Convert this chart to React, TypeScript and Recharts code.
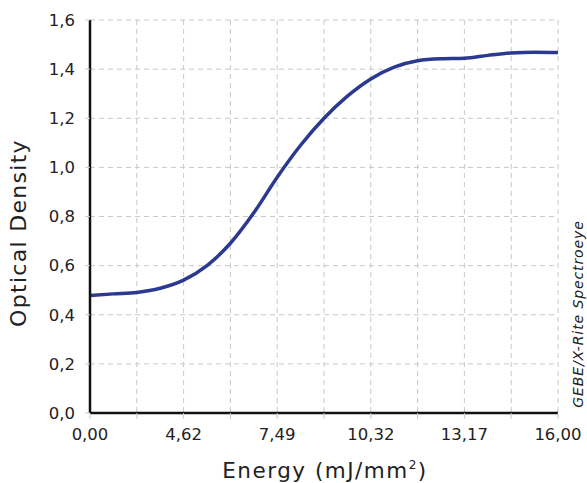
import React from "react";
import {
  LineChart,
  Line,
  XAxis,
  YAxis,
  CartesianGrid,
} from "recharts";

// x positions are grid steps (0..10); only every other step carries a label
const steps = [0, 0.5, 1, 1.5, 2, 2.5, 3, 3.5, 4, 4.5, 5, 5.5, 6, 6.5, 7, 7.5, 8, 8.5, 9, 9.5, 10];
const density = [
  0.478, 0.485, 0.491, 0.508, 0.541, 0.6, 0.691, 0.815, 0.96, 1.09, 1.2, 1.29,
  1.36, 1.408, 1.434, 1.442, 1.444, 1.456, 1.466, 1.469, 1.468,
];
const gridSteps = [0, 1, 2, 3, 4, 5, 6, 7, 8, 9, 10];
const energyLabels = ["0,00", "4,62", "7,49", "10,32", "13,17", "16,00"];
const yTicks = [0, 0.2, 0.4, 0.6, 0.8, 1.0, 1.2, 1.4, 1.6];

const data = steps.map((s, i) => ({ step: s, od: density[i] }));

const font = "'DejaVu Sans', sans-serif";

export default function App() {
  return (
    <div style={{ position: "absolute", left: 0, top: 0, width: 587, height: 483, fontFamily: font }}>
      <LineChart
        width={587}
        height={483}
        data={data}
        margin={{ top: 20, right: 29, bottom: 0, left: 0 }}
      >
        <CartesianGrid stroke="#c8c8c8" strokeDasharray="5 4" />
        <XAxis
          dataKey="step"
          type="number"
          domain={[0, 10]}
          ticks={gridSteps}
          interval={0}
          height={70}
          axisLine={{ stroke: "#111", strokeWidth: 2.5 }}
          tickLine={{ stroke: "#c8c8c8" }}
          tickSize={6}
          tickMargin={9}
          tickFormatter={(v: number) => (v % 2 === 0 ? energyLabels[v / 2] : "")}
          tick={{ fill: "#222", fontSize: 16.5, fontFamily: font }}
        />
        <YAxis
          type="number"
          domain={[0, 1.6]}
          ticks={yTicks}
          interval={0}
          width={90}
          axisLine={{ stroke: "#111", strokeWidth: 2.5 }}
          tickLine={{ stroke: "#c8c8c8" }}
          tickSize={5}
          tickMargin={10}
          tickFormatter={(v: number) => v.toFixed(1).replace(".", ",")}
          tick={{ fill: "#222", fontSize: 16.5, fontFamily: font }}
        />
        <Line
          type="monotone"
          dataKey="od"
          stroke="#2b3990"
          strokeWidth={3.5}
          dot={false}
          isAnimationActive={false}
        />
      </LineChart>
      <div
        style={{
          position: "absolute",
          left: 18,
          top: 233,
          transform: "translate(-50%, -50%) rotate(-90deg)",
          whiteSpace: "nowrap",
          fontSize: 22,
          letterSpacing: 1.3,
          color: "#222",
        }}
      >
        Optical Density
      </div>
      <div
        style={{
          position: "absolute",
          left: 325,
          top: 470,
          transform: "translate(-50%, -50%)",
          whiteSpace: "nowrap",
          fontSize: 21.5,
          letterSpacing: 1.5,
          color: "#222",
        }}
      >
        Energy (mJ/mm<sup style={{ fontSize: 12 }}>2</sup>)
      </div>
      <div
        style={{
          position: "absolute",
          left: 578,
          top: 314,
          transform: "translate(-50%, -50%) rotate(-90deg)",
          whiteSpace: "nowrap",
          fontSize: 14,
          letterSpacing: 0.9,
          fontStyle: "italic",
          color: "#222",
        }}
      >
        GEBE/X-Rite Spectroeye
      </div>
    </div>
  );
}
